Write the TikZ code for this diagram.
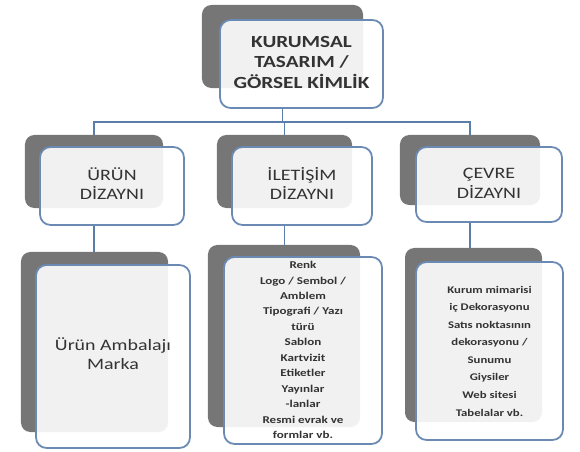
\documentclass[tikz,border=0pt]{standalone}
\usepackage{fontspec}
\usepackage{graphicx}
\setmainfont{Carlito}
\usetikzlibrary{positioning}
\definecolor{shadowgray}{HTML}{767676}
\definecolor{boxblue}{HTML}{6A8AB4}
\definecolor{linkblue}{HTML}{5B7DAA}
\definecolor{textgray}{HTML}{333333}

% the text in the picture is set a little wide
\newcommand{\widetext}[1]{\scalebox{1.25}[1]{\begin{tabular}{@{}c@{}}#1\end{tabular}}}

\tikzset{
  shadowbox/.style={fill=shadowgray, rounded corners=8pt, inner sep=0pt},
  frontbox/.style={draw=boxblue, line width=1.5pt, fill=white, fill opacity=0.9, text opacity=1,
    rounded corners=9pt, inner sep=0pt, align=center, text=textgray},
  link/.style={draw=linkblue, line width=1.6pt},
  toptext/.style={font=\bfseries\fontsize{14.5}{17}\selectfont},
  midtext/.style={font=\fontsize{13.6}{17}\selectfont},
  listtext/.style={font=\bfseries\fontsize{8.9}{13.2}\selectfont}
}

\begin{document}
\begin{tikzpicture}[x=0.03cm, y=-0.03cm]
  \useasboundingbox (0,0) rectangle (580,452);

  % top
  \node[shadowbox, minimum width=4.83cm, minimum height=2.49cm] (topsh) at (282.5,46.5) {};
  \node[frontbox, toptext, minimum width=4.89cm, minimum height=2.64cm] (top) at (301.5,64)
    {\widetext{KURUMSAL\\TASARIM /\\GÖRSEL KİMLİK}};

  % second row
  \node[shadowbox, minimum width=4.14cm, minimum height=2.19cm] (urunsh) at (94,171.5) {};
  \node[frontbox, midtext, minimum width=4.32cm, minimum height=2.34cm] (urun) at (112,186)
    {\widetext{ÜRÜN\\DİZAYNI}};
  \node[shadowbox, minimum width=4.05cm, minimum height=2.19cm] (iletsh) at (284.5,171.5) {};
  \node[frontbox, midtext, minimum width=4.2cm, minimum height=2.34cm] (ilet) at (302,186)
    {\widetext{İLETİŞİM\\DİZAYNI}};
  \node[shadowbox, minimum width=4.2cm, minimum height=2.1cm] (cevresh) at (470,170) {};
  \node[frontbox, midtext, minimum width=4.38cm, minimum height=2.25cm] (cevre) at (489,184.5)
    {\widetext{ÇEVRE\\DİZAYNI}};

  % third row
  \node[shadowbox, minimum width=4.41cm, minimum height=5.4cm] (urunlistsh) at (94.5,342) {};
  \node[frontbox, font=\fontsize{13.6}{16}\selectfont, minimum width=4.62cm, minimum height=5.49cm]
    (urunlist) at (113,356.5) {\widetext{Ürün Ambalajı\\Marka}};
  \node[shadowbox, minimum width=4.56cm, minimum height=5.46cm] (iletlistsh) at (284,336) {};
  \node[frontbox, listtext, minimum width=4.74cm, minimum height=5.61cm] (iletlist) at (303,350.5)
    {\widetext{Renk\\Logo / Sembol /\\Amblem\\Tipografi / Yazı\\türü\\Sablon\\Kartvizit\\Etiketler\\Yayınlar\\-lanlar\\Resmi evrak ve\\formlar vb.}};
  \node[shadowbox, minimum width=4.11cm, minimum height=5.22cm] (cevrelistsh) at (473.5,335) {};
  \node[frontbox, font=\bfseries\fontsize{8.7}{15}\selectfont, minimum width=4.41cm, minimum height=5.34cm]
    (cevrelist) at (489.5,351)
    {\widetext{Kurum mimarisi\\iç Dekorasyonu\\Satıs noktasının\\dekorasyonu /\\Sunumu\\Giysiler\\Web sitesi\\Tabelalar vb.}};

  % connectors
  \coordinate (bus) at (0,122);
  \draw[link] (topsh.center |- top.south) -- (topsh.center |- bus);
  \draw[link] (urunsh.north) |- (cevresh.north |- bus) -- (cevresh.north);
  \draw[link] (iletsh.north |- bus) -- (iletsh.north);
  \draw[link] (urunsh.center |- urun.south) -- (urunsh.center |- urunlistsh.north);
  \draw[link] (iletsh.center |- ilet.south) -- (iletsh.center |- iletlistsh.north);
  \draw[link] (cevresh.center |- cevre.south) -- (cevresh.center |- cevrelistsh.north);
\end{tikzpicture}
\end{document}
